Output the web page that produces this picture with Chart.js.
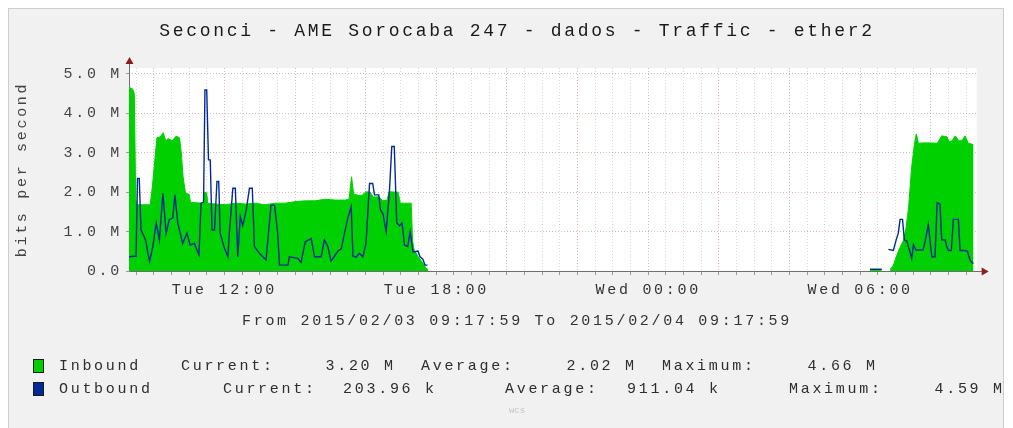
<!DOCTYPE html>
<html>
<head>
<meta charset="utf-8">
<script src="https://cdn.jsdelivr.net/npm/chart.js@4/dist/chart.umd.min.js"></script>
<style>
html,body{margin:0;padding:0;background:#fff;overflow:hidden;width:1013px;height:428px;}
#wrap{position:absolute;left:0;top:0;width:1034px;height:428px;}
</style>
</head>
<body>
<div id="wrap"><canvas id="c"></canvas></div>
<script>
// ---- texts ----
const chartTitle = 'Seconci - AME Sorocaba 247 - dados - Traffic - ether2';
const yAxisTitle = 'bits per second';
const periodLabel = 'From 2015/02/03 09:17:59 To 2015/02/04 09:17:59';
const footerMark = 'wcs';

// ---- x axis (hours since Tue 00:00) ----
const startHour = 9.2997;
const endHour = 33.2997;
const xTickHours = [12, 18, 24, 30];
const xTickLabels = ['Tue 12:00', 'Tue 18:00', 'Wed 00:00', 'Wed 06:00'];

// ---- y axis (Mbit/s) ----
const yMax = 5.15;
const yTickValues = [0, 1, 2, 3, 4, 5];
const yTickLabels = ['0.0', '1.0 M', '2.0 M', '3.0 M', '4.0 M', '5.0 M'];

// ---- series ----
const seriesNames = ['Inbound', 'Outbound'];
const seriesColors = ['#00CF00', '#002A97'];

const inboundHours = [
  9.30, 9.40, 9.45, 9.49, 9.53, 9.90, 9.96, 10.04, 10.09, 10.18,
  10.27, 10.34, 10.41, 10.52, 10.63, 10.73, 10.78, 10.83, 10.90, 11.00,
  11.04, 11.41, 11.44, 11.50, 11.53, 11.74, 12.02, 12.30, 12.59, 12.87,
  13.15, 13.44, 13.72, 14.00, 14.29, 14.57, 14.85, 15.14, 15.42, 15.53,
  15.60, 15.66, 15.79, 15.90, 16.01, 16.13, 16.21, 16.38, 16.49, 16.61,
  16.66, 16.92, 16.98, 17.29, 17.33, 17.37, 17.49, 17.62, 17.71, 17.77,
  17.80, 30.25, 30.28, 30.61, 30.70, 30.85, 30.93, 31.08, 31.23, 31.30,
  31.37, 31.46, 31.54, 31.59, 31.65, 31.78, 31.98, 32.18, 32.26, 32.31,
  32.46, 32.52, 32.60, 32.69, 32.80, 32.89, 32.97, 33.06, 33.16, 33.21
];
const inboundMbps = [
  4.66, 4.62, 4.50, 1.80, 1.68, 1.68, 2.13, 2.90, 3.38, 3.40,
  3.51, 3.30, 3.36, 3.30, 3.42, 3.38, 3.00, 2.40, 1.97, 1.95,
  1.74, 1.72, 2.00, 1.98, 1.72, 1.70, 1.68, 1.72, 1.70, 1.72,
  1.68, 1.72, 1.72, 1.76, 1.78, 1.78, 1.82, 1.80, 1.80, 1.82,
  2.39, 1.95, 1.92, 1.92, 2.01, 2.00, 1.88, 1.88, 1.78, 1.80,
  2.01, 2.00, 1.72, 1.72, 0.75, 0.55, 0.36, 0.20, 0.07, 0.03,
  null, null, 0.05, 0.05, null, 0.05, 0.12, 0.50, 0.79, 1.10,
  1.60, 2.65, 3.24, 3.48, 3.24, 3.25, 3.25, 3.24, 3.35, 3.43,
  3.40, 3.28, 3.30, 3.43, 3.30, 3.32, 3.43, 3.24, 3.22, 3.20
];

const outboundHours = [
  9.30, 9.50, 9.54, 9.59, 9.64, 9.74, 9.78, 9.88, 9.97, 10.07,
  10.16, 10.26, 10.35, 10.44, 10.54, 10.60, 10.68, 10.82, 10.94, 11.03,
  11.15, 11.28, 11.34, 11.41, 11.45, 11.50, 11.55, 11.60, 11.65, 11.72,
  11.79, 11.84, 11.88, 12.00, 12.10, 12.14, 12.24, 12.31, 12.38, 12.45,
  12.52, 12.62, 12.71, 12.79, 12.85, 12.99, 13.18, 13.32, 13.42, 13.51,
  13.56, 13.80, 13.84, 14.08, 14.17, 14.29, 14.46, 14.55, 14.74, 14.83,
  14.93, 15.02, 15.12, 15.21, 15.31, 15.40, 15.50, 15.59, 15.64, 15.73,
  15.82, 15.92, 16.01, 16.11, 16.20, 16.25, 16.37, 16.42, 16.49, 16.58,
  16.67, 16.74, 16.81, 16.88, 16.96, 17.03, 17.10, 17.19, 17.26, 17.34,
  17.41, 17.48, 17.54, 17.62, 17.68, 17.75, 17.80, 30.25, 30.28, 30.61,
  30.70, 30.80, 30.94, 31.02, 31.08, 31.13, 31.20, 31.25, 31.32, 31.40,
  31.46, 31.51, 31.58, 31.78, 31.84, 31.93, 31.98, 32.03, 32.12, 32.18,
  32.26, 32.31, 32.41, 32.45, 32.50, 32.58, 32.64, 32.78, 32.83, 32.97,
  33.04, 33.11, 33.18, 33.21
];
const outboundMbps = [
  0.36, 0.38, 2.35, 2.35, 1.04, 0.85, 0.74, 0.24, 0.60, 1.22,
  0.79, 1.97, 0.96, 1.30, 1.35, 1.93, 1.22, 0.70, 0.96, 0.66,
  0.70, 0.41, 1.72, 1.75, 4.59, 4.59, 2.82, 2.82, 1.04, 1.04,
  2.27, 2.27, 0.96, 0.58, 0.36, 0.96, 2.10, 2.10, 0.36, 1.38,
  1.15, 1.55, 2.10, 2.10, 0.62, 0.45, 0.28, 1.67, 1.67, 0.96,
  0.15, 0.15, 0.36, 0.32, 0.22, 0.74, 0.82, 0.36, 0.36, 0.79,
  0.62, 0.25, 0.38, 0.50, 0.56, 0.96, 1.36, 1.63, 0.38, 0.35,
  0.45, 0.36, 0.70, 2.22, 2.22, 1.93, 1.93, 1.55, 1.45, 1.00,
  1.97, 3.16, 3.16, 1.22, 1.15, 1.22, 0.66, 0.62, 1.00, 0.49,
  0.49, 0.51, 0.36, 0.30, 0.15, 0.15, null, null, 0.04, 0.04,
  null, 0.55, 0.52, 0.79, 0.96, 1.31, 1.31, 0.79, 0.76, 0.52,
  0.32, 0.66, 0.53, 0.54, 0.75, 1.18, 0.75, 0.36, 0.36, 1.73,
  1.70, 0.79, 0.79, 0.62, 0.52, 0.52, 1.31, 1.31, 0.52, 0.52,
  0.50, 0.28, 0.20, 0.20
];

// ---- legend statistics ----
const legendCurrent = ['3.20 M', '203.96 k'];
const legendAverage = ['2.02 M', '911.04 k'];
const legendMaximum = ['4.66 M', '4.59 M'];

// ---------------------------------------------------------------
const FONT = '"Liberation Mono", "DejaVu Sans Mono", monospace';
const SPACING = '2.7px';
Chart.defaults.font.family = FONT;

const pts = (hs, vs) => hs.map((h, i) => ({x: h, y: vs[i]}));

const legendLayout = [
  {y: 366, labels: [181, 421, 662], values: [393, 634, 875]},
  {y: 389, labels: [223, 505, 789], values: [434, 718, 1002]}
];

const deco = {
  id: 'deco',
  beforeDraw(chart) {
    const ctx = chart.ctx, a = chart.chartArea;
    ctx.save();
    ctx.fillStyle = '#ffffff';
    ctx.fillRect(0, 0, chart.width, chart.height);
    ctx.fillStyle = '#f1f1f1';
    ctx.fillRect(8, 8, 995, 430);
    ctx.strokeStyle = '#cdcdcd';
    ctx.lineWidth = 1;
    ctx.strokeRect(8.5, 8.5, 995, 430);
    ctx.fillStyle = '#ffffff';
    ctx.fillRect(a.left, a.top, a.right - a.left, a.bottom - a.top);
    ctx.restore();
    ctx.letterSpacing = SPACING;
  },
  beforeDatasetsDraw(chart) {
    const ctx = chart.ctx, a = chart.chartArea;
    const y0 = Math.round(chart.scales.y.getPixelForValue(0)) + 0.5;
    const x0 = Math.round(a.left) + 0.5;
    ctx.save();
    ctx.strokeStyle = '#6e6e6e';
    ctx.lineWidth = 1;
    ctx.beginPath();
    ctx.moveTo(x0, y0); ctx.lineTo(a.right + 6, y0);
    ctx.moveTo(x0, y0); ctx.lineTo(x0, a.top - 5);
    ctx.stroke();
    ctx.fillStyle = '#8f1d1d';
    ctx.beginPath();
    ctx.moveTo(a.right + 5, y0 - 4); ctx.lineTo(a.right + 12, y0); ctx.lineTo(a.right + 5, y0 + 4);
    ctx.closePath(); ctx.fill();
    ctx.beginPath();
    ctx.moveTo(x0 - 4, a.top - 4); ctx.lineTo(x0, a.top - 11); ctx.lineTo(x0 + 4, a.top - 4);
    ctx.closePath(); ctx.fill();
    ctx.restore();
  },
  afterDraw(chart) {
    const ctx = chart.ctx;
    ctx.save();
    ctx.letterSpacing = SPACING;
    ctx.font = '15px ' + FONT;
    ctx.textBaseline = 'middle';
    const words = ['Current:', 'Average:', 'Maximum:'];
    legendLayout.forEach((row, i) => {
      ctx.fillStyle = seriesColors[i];
      ctx.fillRect(33, row.y - 7, 11, 14);
      ctx.strokeStyle = '#1a1a1a';
      ctx.lineWidth = 1;
      ctx.strokeRect(33.5, row.y - 6.5, 10, 13);
      ctx.fillStyle = '#2e2e2e';
      ctx.textAlign = 'left';
      ctx.fillText(seriesNames[i], 59, row.y);
      const vals = [legendCurrent[i], legendAverage[i], legendMaximum[i]];
      words.forEach((w, k) => {
        ctx.textAlign = 'left';
        ctx.fillText(w, row.labels[k], row.y);
        ctx.textAlign = 'right';
        ctx.fillText(vals[k], row.values[k] + 2.7, row.y);
      });
    });
    ctx.letterSpacing = '0px';
    ctx.font = '9px ' + FONT;
    ctx.fillStyle = '#c4c4c4';
    ctx.textAlign = 'center';
    ctx.fillText(footerMark, 517, 411);
    ctx.restore();
  }
};

const gridColor = (major) => major ? 'rgba(200,135,135,0.6)' : 'rgba(200,170,170,0.5)';

new Chart(document.getElementById('c'), {
  type: 'line',
  data: {
    datasets: [
      {
        label: seriesNames[0],
        data: pts(inboundHours, inboundMbps),
        fill: 'origin',
        backgroundColor: seriesColors[0],
        borderColor: seriesColors[0],
        borderWidth: 1,
        pointRadius: 0,
        tension: 0,
        order: 1
      },
      {
        label: seriesNames[1],
        data: pts(outboundHours, outboundMbps),
        fill: false,
        borderColor: seriesColors[1],
        borderWidth: 1.4,
        pointRadius: 0,
        tension: 0,
        order: 0
      }
    ]
  },
  options: {
    responsive: true,
    maintainAspectRatio: false,
    animation: false,
    events: [],
    layout: {padding: {top: 8, bottom: 88, left: 0, right: 0}},
    plugins: {
      legend: {display: false},
      tooltip: {enabled: false},
      title: {
        display: true, text: chartTitle, color: '#1a1a1a',
        font: {size: 18, weight: 'normal'},
        padding: {top: 12, bottom: 26.4}
      },
      subtitle: {
        display: true, text: periodLabel, position: 'bottom', color: '#333',
        font: {size: 15, weight: 'normal'},
        padding: {top: 14, bottom: 10}
      }
    },
    scales: {
      x: {
        type: 'linear', min: startHour, max: endHour,
        afterBuildTicks(s) {
          const t = [];
          for (let h = Math.ceil(startHour * 2) / 2; h <= endHour; h += 0.5) t.push({value: h});
          s.ticks = t;
        },
        afterFit(s) { s.height = 27; },
        ticks: {
          autoSkip: false, maxRotation: 0, minRotation: 0, padding: 6,
          color: '#333', font: {size: 15},
          callback(v) { const i = xTickHours.indexOf(v); return i >= 0 ? xTickLabels[i] : ''; }
        },
        grid: {
          color: (c) => gridColor(c.tick && c.tick.value % 2 === 0),
          lineWidth: 1, tickLength: 4, tickColor: '#9a9a9a', tickBorderDash: []
        },
        border: {display: false, dash: [1, 2]}
      },
      y: {
        type: 'linear', position: 'left', min: 0, max: yMax,
        afterBuildTicks(s) {
          const t = [];
          for (let v = 0; v <= 5; v += 0.5) t.push({value: v});
          s.ticks = t;
        },
        afterFit(s) { s.width = 129; },
        ticks: {
          padding: 4, color: '#444', font: {size: 15},
          callback(v) { const i = yTickValues.indexOf(v); return i >= 0 ? yTickLabels[i] : ''; }
        },
        grid: {
          color: (c) => gridColor(c.tick && Number.isInteger(c.tick.value)),
          lineWidth: 1, tickLength: 3, tickColor: '#9a9a9a', tickBorderDash: []
        },
        border: {display: false, dash: [1, 2]},
        title: {
          display: true, text: yAxisTitle, color: '#444',
          font: {size: 15}, padding: {top: 13, bottom: 0}
        }
      },
      yR: {
        type: 'linear', position: 'right', display: true,
        grid: {display: false}, ticks: {display: false}, border: {display: false},
        afterFit(s) { s.width = 57.3; }
      }
    }
  },
  plugins: [deco]
});
</script>
</body>
</html>
